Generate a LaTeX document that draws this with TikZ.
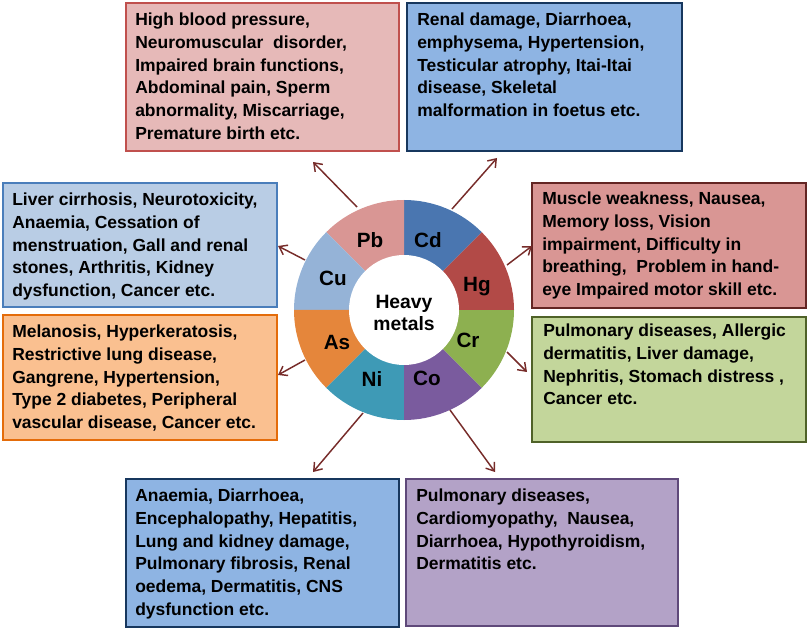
\documentclass[tikz,border=0pt]{standalone}
\usepackage{fontspec}
\setmainfont{Liberation Sans}
\usetikzlibrary{arrows.meta,fit}
\definecolor{pbfill}{HTML}{E6B9B8}\definecolor{pbdraw}{HTML}{C0504D}
\definecolor{cdfill}{HTML}{8EB4E3}\definecolor{cddraw}{HTML}{17375E}
\definecolor{cufill}{HTML}{B9CDE5}\definecolor{cudraw}{HTML}{4A7EBB}
\definecolor{asfill}{HTML}{FAC090}\definecolor{asdraw}{HTML}{E46C0A}
\definecolor{hgfill}{HTML}{D99694}\definecolor{hgdraw}{HTML}{632523}
\definecolor{crfill}{HTML}{C3D69B}\definecolor{crdraw}{HTML}{4F6228}
\definecolor{cofill}{HTML}{B3A2C7}\definecolor{codraw}{HTML}{5F497A}
\definecolor{segpb}{HTML}{D99694}\definecolor{segcd}{HTML}{4A76B0}
\definecolor{seghg}{HTML}{B24A47}\definecolor{segcr}{HTML}{8DB050}
\definecolor{segco}{HTML}{7A5B9E}\definecolor{segni}{HTML}{3E9AB6}
\definecolor{segas}{HTML}{E5863B}\definecolor{segcu}{HTML}{95B3D7}
\definecolor{arrowcol}{HTML}{772C2A}
\begin{document}
\begin{tikzpicture}[x=0.75pt,y=-0.75pt,
  infobox/.style={rectangle, inner sep=0pt, line width=1.6pt},
  infotext/.style={anchor=north west, inner sep=0pt, align=left,
    font=\fontsize{13.1pt}{17pt}\selectfont\bfseries},
  metal/.style={inner sep=0pt, font=\fontsize{15.5pt}{17pt}\selectfont\bfseries},
  link/.style={draw=arrowcol, line width=1.1pt, -{Straight Barb[length=5.5pt,width=8pt]}}]
\useasboundingbox (0,0) rectangle (809,630);
% ring
\coordinate (c) at (404,310);
\foreach \a/\col in {45/segcd,90/segpb,135/segcu,180/segas,225/segni,270/segco,315/segcr,0/seghg}{
  \fill[\col] (c) -- ++(\a:82.5pt) arc[start angle=\a, delta angle=45, radius=82.5pt] -- cycle;
}
\node[circle, fill=white, minimum size=82.5pt, inner sep=0pt] (hub) at (c) {};
\node[align=center, inner sep=0pt, font=\fontsize{14.5pt}{17pt}\selectfont\bfseries] (hubtext) at (404,313) {Heavy\\metals};
\node[metal] (lpb) at (370,240) {Pb};
\node[metal] (lcd) at (428,240) {Cd};
\node[metal] (lhg) at (477,287) {Hg};
\node[metal] (lcr) at (468,340) {Cr};
\node[metal] (lco) at (427,378) {Co};
\node[metal] (lni) at (372,379) {Ni};
\node[metal] (las) at (337,342) {As};
\node[metal] (lcu) at (333,278) {Cu};
% boxes
\node[infobox, fill=pbfill, draw=pbdraw, fit={(126,3) (399,151)}] (pbbox) {};
\node[infobox, fill=cdfill, draw=cddraw, fit={(407,3) (682,151)}] (cdbox) {};
\node[infobox, fill=cufill, draw=cudraw, fit={(3,183) (277,307)}] (cubox) {};
\node[infobox, fill=asfill, draw=asdraw, fit={(3,315) (277,440)}] (asbox) {};
\node[infobox, fill=hgfill, draw=hgdraw, fit={(532,183) (806,308)}] (hgbox) {};
\node[infobox, fill=crfill, draw=crdraw, fit={(532,317) (806,442)}] (crbox) {};
\node[infobox, fill=cdfill, draw=cddraw, fit={(126,479) (399,627)}] (nibox) {};
\node[infobox, fill=cofill, draw=codraw, fit={(406,479) (678,626)}] (cobox) {};
\node[infotext] (pbtxt) at (135,13) {High blood pressure,\\Neuromuscular\ \ disorder,\\Impaired brain functions,\\Abdominal pain, Sperm\\abnormality, Miscarriage,\\Premature birth etc.};
\node[infotext] (cdtxt) at (417,13) {Renal damage, Diarrhoea,\\emphysema, Hypertension,\\Testicular atrophy, Itai-Itai\\disease, Skeletal\\malformation in foetus etc.};
\node[infotext] (cutxt) at (12,193) {Liver cirrhosis, Neurotoxicity,\\Anaemia, Cessation of\\menstruation, Gall and renal\\stones, Arthritis, Kidney\\dysfunction, Cancer etc.};
\node[infotext] (astxt) at (12,325) {Melanosis, Hyperkeratosis,\\Restrictive lung disease,\\Gangrene, Hypertension,\\Type 2 diabetes, Peripheral\\vascular disease, Cancer etc.};
\node[infotext] (hgtxt) at (542,192) {Muscle weakness, Nausea,\\Memory loss, Vision\\impairment, Difficulty in\\breathing,\ \ Problem in hand-\\eye Impaired motor skill etc.};
\node[infotext] (crtxt) at (543,324) {Pulmonary diseases, Allergic\\dermatitis, Liver damage,\\Nephritis, Stomach distress ,\\Cancer etc.};
\node[infotext] (nitxt) at (135,489) {Anaemia, Diarrhoea,\\Encephalopathy, Hepatitis,\\Lung and kidney damage,\\Pulmonary fibrosis, Renal\\oedema, Dermatitis, CNS\\dysfunction etc.};
\node[infotext] (cotxt) at (416,489) {Pulmonary diseases,\\Cardiomyopathy,\ \ Nausea,\\Diarrhoea, Hypothyroidism,\\Dermatitis etc.};
% arrows
\coordinate (spb) at (357,207); \coordinate (tpb) at (313,162);
\coordinate (scd) at (452,209); \coordinate (tcd) at (497,158);
\coordinate (scu) at (305,260); \coordinate (tcu) at (278,246);
\coordinate (sas) at (305,360); \coordinate (tas) at (278,375);
\coordinate (shg) at (507,265); \coordinate (thg) at (532,246);
\coordinate (scr) at (507,352); \coordinate (tcr) at (527,372);
\coordinate (sni) at (363,413); \coordinate (tni) at (313,472);
\coordinate (sco) at (450,410); \coordinate (tco) at (495,472);
\foreach \m in {pb,cd,cu,as,hg,cr,ni,co}{\draw[link] (s\m) -- (t\m);}
\end{tikzpicture}
\end{document}
